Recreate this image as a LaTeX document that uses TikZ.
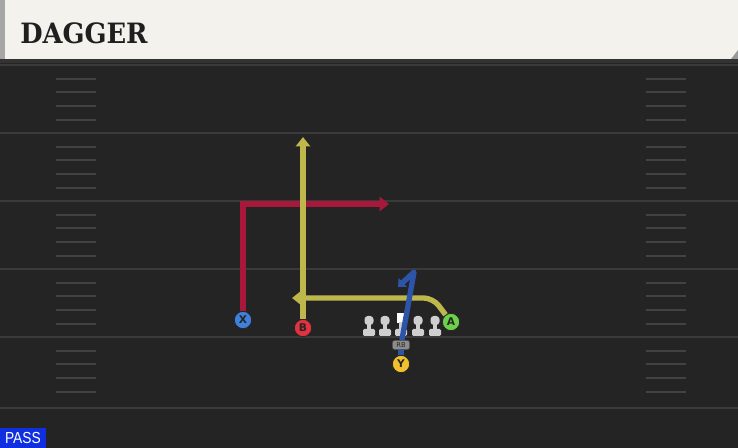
\documentclass[tikz,border=0pt]{standalone}
\usepackage{fontspec}
\newfontfamily\titlefont{DejaVu Serif}
\newfontfamily\tagfont{Liberation Sans}
\newfontfamily\letterfont{DejaVu Sans}
\usetikzlibrary{arrows.meta, positioning}
\definecolor{turf}{HTML}{242424}
\definecolor{yardline}{HTML}{3A3A3A}
\definecolor{hashline}{HTML}{424242}
\definecolor{banner}{HTML}{F4F2EC}
\definecolor{redroute}{HTML}{A8183A}
\definecolor{yelroute}{HTML}{BDB74C}
\definecolor{bluroute}{HTML}{2C55AA}
\definecolor{xblue}{HTML}{3F80DA}
\definecolor{bred}{HTML}{E2323F}
\definecolor{agreen}{HTML}{6CD04A}
\definecolor{yyellow}{HTML}{F1C02C}
\definecolor{passblue}{HTML}{0F2FE0}
\definecolor{olgray}{HTML}{CFCFCF}

\tikzset{
	player/.style={circle, draw=black!85, line width=0.6pt, inner sep=0pt, minimum size=13pt,
		font=\letterfont\bfseries\footnotesize, text=black!85},
	route/.style={line width=4pt},
	tip/.style={-{Triangle[width=10.5pt,length=7pt]}}
}

\begin{document}
\begin{tikzpicture}[x=0.75pt, y=-0.75pt]
		\useasboundingbox (0,0) rectangle (738,448);
		\fill[turf] (0,0) rectangle (738,448);
		
		% field markings
		\foreach \y in {65,133,201,269,337,408}
			\draw[yardline, line width=1.5pt] (0,\y) -- (738,\y);
		\foreach \y in {65,133,201,269,337}
			\foreach \d in {14,27,41,55} {
				\draw[hashline, line width=1.6pt] (56,\y+\d) -- (96,\y+\d);
				\draw[hashline, line width=1.6pt] (646,\y+\d) -- (686,\y+\d);
			}
		
		% header
		\fill[banner] (0,0) rectangle (738,59);
		\fill[black!35] (0,0) rectangle (5,59);
		\fill[black!80] (0,59) rectangle (738,63);
		\fill[black!40] (731,59) -- (738,59) -- (738,50) -- cycle;
		\node[anchor=west, inner sep=0pt, text=black!88,
			font=\titlefont\bfseries\fontsize{21}{24}\selectfont] (title) at (20,33) {\scalebox{0.92}[1]{DAGGER}};
		
		% line
		\foreach \x in {369,385,418,435} {
			\fill[olgray, rounded corners=2.5pt] (\x-4.5,316) rectangle (\x+4.5,325);
			\fill[olgray] (\x-2,323) rectangle (\x+2,331);
			\fill[olgray, rounded corners=1pt] (\x-6,329) rectangle (\x+6,336);
		}
		\fill[white] (397,313) rectangle (406,323);
		\fill[olgray] (399,322) rectangle (403,331);
		\fill[olgray, rounded corners=1pt] (395,329) rectangle (407,336);
		
		\draw (243,320) node[player, fill=xblue] (X) {X}
		(303,328) node[player, fill=bred] (B) {B}
		(451,322) node[player, fill=agreen] (A) {A}
		(401,364) node[player, fill=yyellow] (Y) {Y}
		(401,345) node[draw=black!70, fill=black!45, rounded corners=2pt, inner sep=0pt,
			minimum width=13pt, minimum height=7pt, text=black!85,
			font=\letterfont\fontsize{5}{5}\selectfont] (RB) {RB}
		(0,448) node[anchor=south west, fill=passblue, text=white, inner sep=0pt,
			minimum width=34pt, minimum height=15pt,
			font=\tagfont\fontsize{12}{12}\selectfont] (pass) {\scalebox{0.86}[1]{PASS}};
		
		\coordinate (Xcut) at (243,204);
		\coordinate (Xend) at (389,204);
		\coordinate (Bend) at (303,137);
		\coordinate (Abend) at (433,298);
		\coordinate (Aend) at (292,298);
		\coordinate (Ytop) at (414,272);
		\coordinate (Yend) at (398,287);
		
		\draw[route, redroute, tip] (X) -- (Xcut) -- (Xend);
		\draw[route, yelroute, tip] (B) -- (Bend);
		\draw[route, yelroute, tip, rounded corners=7pt] (A) -- (Abend) -- (Aend);
		\draw[route, bluroute] (Y) -- (RB);
		\draw[route, bluroute, line join=round, -{Triangle[width=9pt,length=5pt]}] (RB) -- (Ytop) -- (Yend);
	\end{tikzpicture}
\end{document}
